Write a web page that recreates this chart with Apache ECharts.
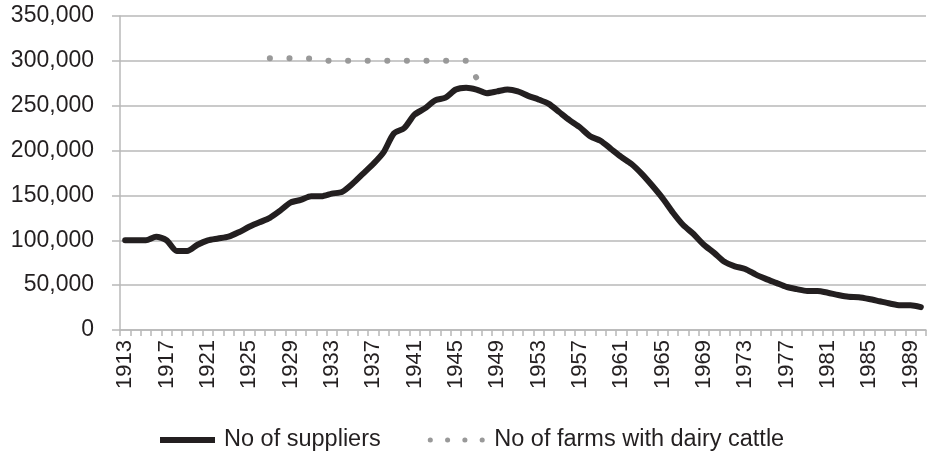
<!DOCTYPE html>
<html>
<head>
<meta charset="utf-8">
<script src="https://cdn.jsdelivr.net/npm/echarts@6/dist/echarts.min.js"></script>
<style>
html,body{margin:0;padding:0;background:#fff;}
#c{width:928px;height:458px;}
</style>
</head>
<body>
<div id="c"></div>
<script>
var years = ['1913','1914','1915','1916','1917','1918','1919','1920','1921','1922',
  '1923','1924','1925','1926','1927','1928','1929','1930','1931','1932',
  '1933','1934','1935','1936','1937','1938','1939','1940','1941','1942',
  '1943','1944','1945','1946','1947','1948','1949','1950','1951','1952',
  '1953','1954','1955','1956','1957','1958','1959','1960','1961','1962',
  '1963','1964','1965','1966','1967','1968','1969','1970','1971','1972',
  '1973','1974','1975','1976','1977','1978','1979','1980','1981','1982',
  '1983','1984','1985','1986','1987','1988','1989','1990'];

var suppliers = [100000,100000,100000,104000,100000,88000,88000,95000,100000,102000,
  104000,109000,115000,120000,125000,133000,142000,145000,149000,149000,
  152000,154000,163000,174000,185000,198000,219000,225000,240000,247000,
  256000,259000,268000,270000,268000,264000,266000,268000,266000,261000,
  257000,252000,243000,234000,226000,216000,211000,202000,193000,185000,
  174000,161000,147000,131000,117000,107000,95000,86000,76000,71000,
  68000,62000,57000,52500,48000,45500,43500,43500,41500,39000,
  37000,36500,34500,32000,29500,27500,27500,25500];

var farms = [null,null,null,null,null,null,null,null,null,null,
  null,null,null,null,303000,303000,303000,302500,302500,300500,
  300000,300000,300000,300000,300000,300000,300000,300000,300000,300000,
  300000,300000,300000,300000,281000,266000,null,null,null,null,
  null,null,null,null,null,null,null,null,null,null,
  null,null,null,null,null,null,null,null,null,null,
  null,null,null,null,null,null,null,null,null,null,
  null,null,null,null,null,null,null,null];

var yTicks = [0, 50000, 100000, 150000, 200000, 250000, 300000, 350000];

var seriesNames = ['No of suppliers', 'No of farms with dairy cattle'];

var FONT = '"Liberation Sans", Arial, Helvetica, sans-serif';
var TEXT = '#231f20';
var GRID = '#b8b8b8';
var DOT = '#999999';
var LINE = '#231f20';

var chart = echarts.init(document.getElementById('c'), null, {renderer: 'canvas'});
chart.setOption({
  animation: false,
  backgroundColor: '#ffffff',
  textStyle: {fontFamily: FONT},
  grid: {left: 120, right: 2, top: 16, bottom: 128, containLabel: false, outerBoundsMode: 'none'},
  legend: {
    data: [
      {name: seriesNames[0], lineStyle: {width: 6, color: LINE, cap: 'butt'}},
      {name: seriesNames[1], lineStyle: {type: [0.1, 17.2], cap: 'round', width: 5, color: DOT}}
    ],
    left: 157,
    top: 428,
    padding: 0,
    itemWidth: 55,
    itemHeight: 24,
    itemGap: 47,
    itemStyle: {opacity: 0, color: 'rgba(0,0,0,0)', borderWidth: 0},
    textStyle: {fontSize: 23.5, color: TEXT, fontFamily: FONT, padding: [0, 0, 0, 4]}
  },
  xAxis: {
    type: 'category',
    data: years,
    boundaryGap: true,
    axisLine: {show: true, lineStyle: {color: GRID, width: 1.5}},
    axisTick: {show: true, interval: 0, length: 6, lineStyle: {color: GRID, width: 1.5}},
    axisLabel: {
      interval: 3,
      rotate: 90,
      margin: 10,
      fontSize: 22,
      color: TEXT,
      fontFamily: FONT
    },
    splitLine: {show: false}
  },
  yAxis: {
    type: 'value',
    min: yTicks[0],
    max: yTicks[yTicks.length - 1],
    interval: yTicks[1] - yTicks[0],
    axisLine: {show: true, lineStyle: {color: GRID, width: 1.5}},
    axisTick: {show: true, length: 8, lineStyle: {color: GRID, width: 1.5}},
    axisLabel: {
      margin: 26,
      fontSize: 23,
      color: TEXT,
      fontFamily: FONT,
      formatter: function (v) { return v.toLocaleString('en-US'); }
    },
    splitLine: {show: true, lineStyle: {color: GRID, width: 1.5}}
  },
  series: [
    {
      name: seriesNames[0],
      type: 'line',
      data: suppliers,
      symbol: 'none',
      smooth: 0.25,
      lineStyle: {color: LINE, width: 6, cap: 'round', join: 'round'},
      itemStyle: {color: LINE},
      z: 2
    },
    {
      name: seriesNames[1],
      type: 'line',
      data: farms,
      symbol: 'none',
      smooth: false,
      lineStyle: {color: DOT, width: 6, type: [0.1, 19.5], cap: 'round', join: 'round'},
      itemStyle: {color: DOT},
      z: 3
    }
  ]
});
</script>
</body>
</html>
